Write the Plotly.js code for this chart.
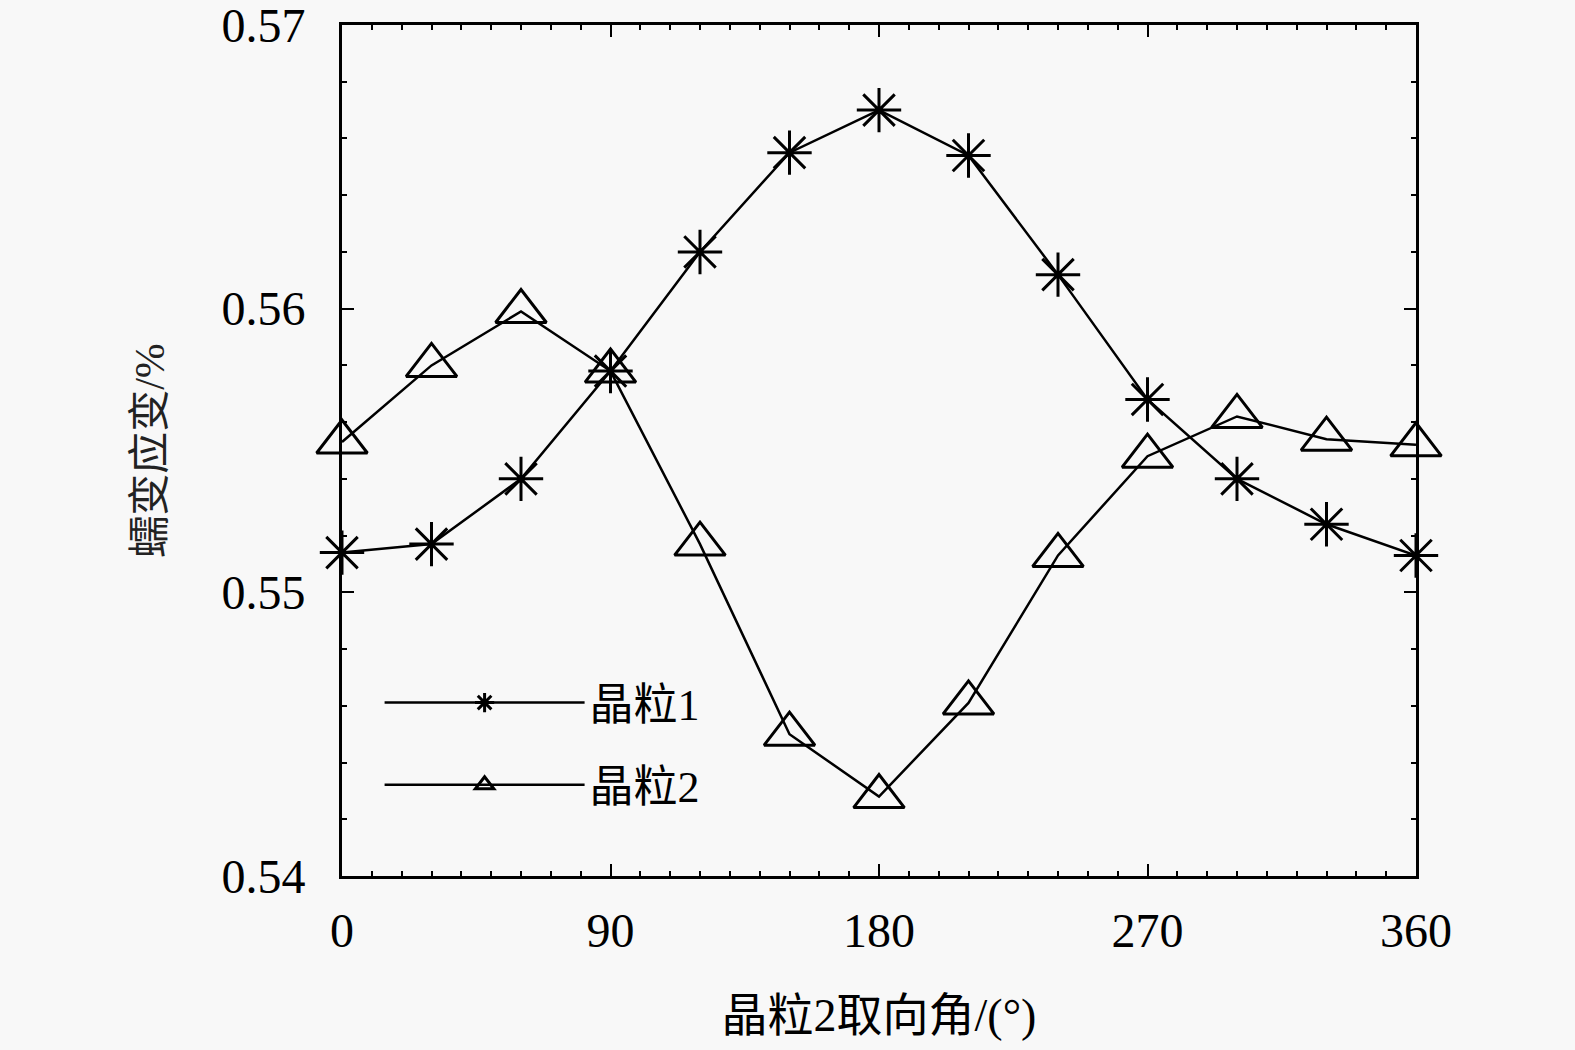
<!DOCTYPE html>
<html>
<head>
<meta charset="utf-8">
<script src="https://cdn.plot.ly/plotly-3.0.1.min.js"></script>
<style>
    html, body { margin: 0; padding: 0; background: #f8f8f8; }
    #chart { width: 1575px; height: 1050px; }
</style>
</head>
<body>
<div id="chart"></div>
<script>
// orientation angle of grain 2 (degrees)
const angles = [0, 30, 60, 90, 120, 150, 180, 210, 240, 270, 300, 330, 360];
// creep strain (%)
const grain1 = [0.5514, 0.5517, 0.5540, 0.5578, 0.5620, 0.5655, 0.5670, 0.5654, 0.5612, 0.5568, 0.5540, 0.5524, 0.5513];
const grain2 = [0.5553, 0.5580, 0.5599, 0.5578, 0.5517, 0.5450, 0.5428, 0.5461, 0.5513, 0.5548, 0.5562, 0.5554, 0.5552];
const seriesNames = ['晶粒1', '晶粒2'];
const xTicks = [0, 90, 180, 270, 360];
const yTicks = [0.54, 0.55, 0.56, 0.57];
const yTickText = ['0.54', '0.55', '0.56', '0.57'];

const serif = 'Liberation Serif, Times New Roman, Noto Sans CJK SC, serif';

const trace1 = {
    x: angles,
    y: grain1,
    name: seriesNames[0],
    legendgroup: 'g1',
    mode: 'lines+markers',
    type: 'scatter',
    line: {color: '#000', width: 2.5},
    marker: {symbol: 'asterisk-open', size: 37, color: '#000', line: {color: '#000', width: 3}},
    cliponaxis: false
};

const trace2 = {
    x: angles,
    y: grain2,
    name: seriesNames[1],
    legendgroup: 'g2',
    mode: 'lines+markers',
    type: 'scatter',
    line: {color: '#000', width: 2.5},
    marker: {symbol: 'triangle-up-open', size: 44, color: '#000', line: {color: '#000', width: 3}},
    cliponaxis: false
};

const layout = {
    width: 1575,
    height: 1050,
    paper_bgcolor: '#f8f8f8',
    plot_bgcolor: '#f8f8f8',
    margin: {l: 342, r: 159, t: 25, b: 174},
    showlegend: true,
    legend: {
        x: 0.035,
        y: 0.245,
        xanchor: 'left',
        yanchor: 'top',
        bgcolor: 'rgba(0,0,0,0)',
        itemwidth: 200,
        tracegroupgap: 22,
        font: {family: serif, size: 44, color: '#000'}
    },
    xaxis: {
        range: [0, 360],
        tickmode: 'array',
        tickvals: xTicks,
        ticks: 'inside',
        ticklen: 12,
        tickwidth: 2,
        tickcolor: '#000',
        minor: {dtick: 10, ticks: 'inside', ticklen: 5, tickwidth: 2, tickcolor: '#000'},
        showline: true,
        linecolor: '#000',
        linewidth: 3,
        mirror: 'ticks',
        showgrid: false,
        zeroline: false,
        ticklabelstandoff: 10,
        ticklabeloverflow: 'allow',
        tickfont: {family: serif, size: 48, color: '#000'},
        title: {
            text: '晶粒2取向角/(°)',
            standoff: 44,
            font: {family: serif, size: 46, color: '#000'}
        }
    },
    yaxis: {
        range: [0.54, 0.57],
        tickmode: 'array',
        tickvals: yTicks,
        ticktext: yTickText,
        ticks: 'inside',
        ticklen: 12,
        tickwidth: 2,
        tickcolor: '#000',
        minor: {dtick: 0.002, ticks: 'inside', ticklen: 5, tickwidth: 2, tickcolor: '#000'},
        showline: true,
        linecolor: '#000',
        linewidth: 3,
        mirror: 'ticks',
        showgrid: false,
        zeroline: false,
        ticklabelstandoff: 24,
        ticklabeloverflow: 'allow',
        tickfont: {family: serif, size: 48, color: '#000'},
        title: {
            text: '蠕变应变/%',
            standoff: 44,
            font: {family: serif, size: 42, color: '#222'}
        }
    }
};

Plotly.newPlot('chart', [trace1, trace2], layout, {displayModeBar: false, staticPlot: true});
</script>
</body>
</html>
